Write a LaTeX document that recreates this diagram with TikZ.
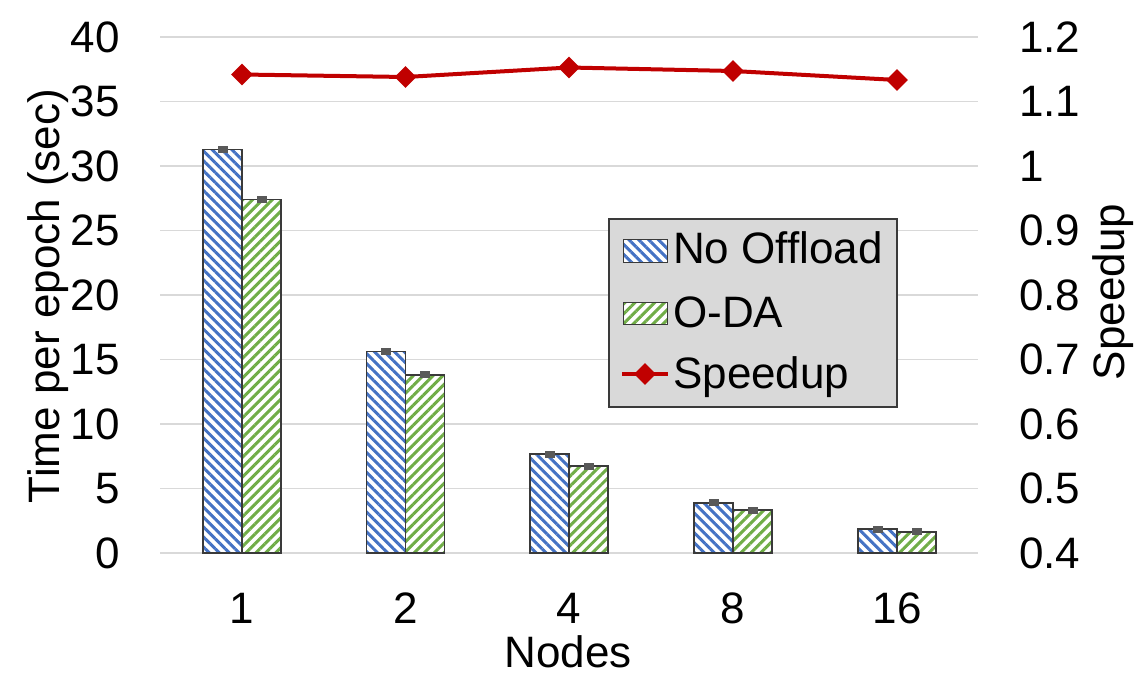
\documentclass[tikz,border=0pt]{standalone}
\usepackage{fontspec}
\setmainfont{Liberation Sans}
\usetikzlibrary{patterns.meta,shapes.geometric}
\definecolor{barblue}{HTML}{4472C4}
\definecolor{bargreen}{HTML}{70AD47}
\definecolor{spred}{HTML}{C00000}
\definecolor{gridgray}{HTML}{D9D9D9}
\definecolor{outline}{HTML}{3A3A3A}
\definecolor{errgray}{HTML}{595959}
\tikzset{
  gridline/.style={draw=gridgray, line width=1.5pt},
  barbox/.style={draw=outline, line width=1.2pt, preaction={fill=white}},
  bluebar/.style={barbox, pattern={Lines[angle=-45,distance=7pt,line width=3pt]}, pattern color=barblue},
  greenbar/.style={barbox, pattern={Lines[angle=45,distance=7pt,line width=3pt]}, pattern color=bargreen},
  errcap/.style={fill=errgray},
  speedline/.style={draw=spred, line width=4pt},
  speedmark/.style={diamond, aspect=1, fill=spred, minimum width=22pt, minimum height=22pt, inner sep=0pt},
  lbl/.style={inner sep=0pt, font=\fontsize{44}{52}\selectfont},
  legendbox/.style={fill=gridgray, draw=outline, line width=1.2pt},
}
\begin{document}
\begin{tikzpicture}[x=1pt,y=-1pt]
\useasboundingbox (0,0) rectangle (1141,680);
% gridlines and tick labels
\foreach \v [count=\i from 0] in {0,5,...,40}{
  \pgfmathsetmacro{\yy}{553-\v*12.9}
  \draw[gridline] (160,\yy) -- (978,\yy);
  \node[lbl, anchor=east] (yl\i) at (120,\yy) {\v};
}
\foreach \t [count=\i from 0] in {0.4,0.5,0.6,0.7,0.8,0.9,1,1.1,1.2}{
  \pgfmathsetmacro{\yy}{553-\i*64.5}
  \node[lbl, anchor=west] (yr\i) at (1019,\yy) {\t};
}
% bars
\foreach \c/\a/\b/\n [count=\i] in {242/31.3/27.4/1, 405.5/15.65/13.8/2, 569/7.67/6.74/4, 733/3.88/3.33/8, 897/1.86/1.63/16}{
  \pgfmathsetmacro{\ya}{553-\a*12.9}
  \pgfmathsetmacro{\yb}{553-\b*12.9}
  \path[bluebar] (\c-39,553) rectangle (\c,\ya);
  \path[greenbar] (\c,553) rectangle (\c+39,\yb);
  \fill[errcap] (\c-19.5-5,\ya-3.5) rectangle (\c-19.5+5,\ya+3.5);
  \fill[errcap] (\c+19.5-5,\yb-3.5) rectangle (\c+19.5+5,\yb+3.5);
  \node[lbl] (x\i) at (\c,608) {\n};
}
% speedup line
\coordinate (p1) at (242,74.5);
\coordinate (p2) at (405.5,77);
\coordinate (p3) at (569,67.5);
\coordinate (p4) at (733,71);
\coordinate (p5) at (897,80);
\draw[speedline] (p1) -- (p2) -- (p3) -- (p4) -- (p5);
\foreach \k in {1,...,5}{ \node[speedmark] (m\k) at (p\k) {}; }
% axis titles
\node[lbl, rotate=90] (ytitle) at (48,296) {Time per epoch (sec)};
\node[lbl, rotate=90] (y2title) at (1113,292) {Speedup};
\node[lbl, anchor=base] (xtitle) at (568,667) {Nodes};
% legend
\path[legendbox] (609,219) rectangle (897,407);
\path[bluebar, line width=1pt] (623,239) rectangle (667,262);
\path[greenbar, line width=1pt] (623,302) rectangle (667,324);
\coordinate (la) at (622,374);
\coordinate (lb) at (668,374);
\draw[speedline] (la) -- (lb);
\node[speedmark] (lm) at (645,374) {};
\node[lbl, anchor=base west] (l1) at (673,263) {No Offload};
\node[lbl, anchor=base west] (l2) at (673,327) {O-DA};
\node[lbl, anchor=base west] (l3) at (673,388) {Speedup};
\end{tikzpicture}
\end{document}
